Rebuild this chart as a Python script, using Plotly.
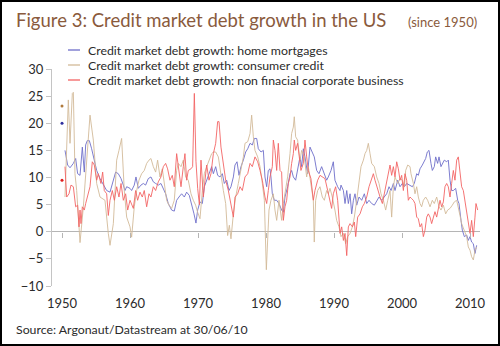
import plotly.graph_objects as go

# ---------------- data ----------------
series_names = [
    "Credit market debt growth: home mortgages",
    "Credit market debt growth: consumer credit",
    "Credit market debt growth: non finacial corporate business",
]
title_text = "Figure 3: Credit market debt growth in the US"
subtitle_text = "(since 1950)"
source_text = "Source: Argonaut/Datastream at 30/06/10"
x_tick_years = [1950, 1960, 1970, 1980, 1990, 2000, 2010]
y_tick_values = [-10, -5, 0, 5, 10, 15, 20, 25, 30]

first_year = 1950.0
first_values = [20.0, 23.2, 9.5]   # mortgages, consumer, non-financial

mort_years = [1950.44, 1950.83, 1951.18, 1951.67, 1952.01, 1952.30, 1952.65, 1952.99, 1953.28, 1953.48,
              1953.72, 1954.02, 1954.36, 1954.75, 1955.10, 1955.59, 1956.08, 1956.57, 1957.06, 1957.55,
              1957.89, 1958.28, 1958.68, 1959.02, 1959.26, 1959.51, 1960.00,
              1960.24, 1960.63, 1960.88, 1961.22, 1961.61, 1961.96, 1962.30, 1962.69, 1963.08, 1963.43,
              1963.77, 1964.16, 1964.55, 1964.90, 1965.24, 1965.63, 1966.12, 1966.51, 1966.86, 1967.20,
              1967.59, 1967.99, 1968.33, 1968.72, 1969.06, 1969.41, 1969.70, 1969.95, 1970.29,
              1970.64, 1970.93, 1971.28, 1971.62, 1972.01, 1972.26, 1972.60, 1972.89, 1973.24, 1973.58,
              1973.87, 1974.22, 1974.56, 1974.85, 1975.20, 1975.44, 1975.74, 1976.03, 1976.32, 1976.67,
              1977.01, 1977.31, 1977.65, 1977.99, 1978.29, 1978.63, 1978.87, 1979.27, 1979.61, 1979.85,
              1980.10, 1980.34, 1980.59,
              1980.73, 1980.93, 1981.22, 1981.57, 1981.91, 1982.30, 1982.55, 1982.79, 1983.18, 1983.53,
              1983.77, 1984.02, 1984.36, 1984.65, 1985.00, 1985.24, 1985.49, 1985.73, 1986.12, 1986.47,
              1986.71, 1987.10, 1987.45, 1987.79, 1988.18, 1988.58, 1988.92, 1989.16, 1989.56, 1989.90,
              1990.14, 1990.54, 1990.88,
              1991.03, 1991.38, 1991.62, 1991.87, 1992.11, 1992.36, 1992.60, 1992.85, 1993.09, 1993.34,
              1993.68, 1994.07, 1994.46, 1994.81, 1995.15, 1995.54, 1995.93, 1996.28, 1996.62, 1997.01,
              1997.40, 1997.75, 1998.09, 1998.39, 1998.73, 1998.97, 1999.37, 1999.71, 2000.05, 2000.35,
              2000.69, 2001.18,
              2001.52, 2001.81, 2002.16, 2002.40, 2002.65, 2002.99, 2003.28, 2003.48, 2003.72, 2003.97,
              2004.26, 2004.46, 2004.75, 2004.95, 2005.24, 2005.44, 2005.73, 2005.93, 2006.22, 2006.57,
              2006.81, 2007.06, 2007.30, 2007.55, 2007.89, 2008.19, 2008.38, 2008.68, 2008.87, 2009.17,
              2009.51, 2009.75, 2010.00, 2010.24, 2010.49, 2010.73, 2010.98]
mort_vals = [15.0, 12.3, 11.8, 12.6, 13.5, 10.7, 10.4, 15.6, 11.0, 16.0,
             16.8, 16.8, 15.3, 13.2, 11.3, 9.8, 8.6, 7.6, 7.3, 9.8,
             11.0, 10.7, 9.8, 8.6, 7.6, 8.3, 8.0,
             7.6, 8.6, 10.1, 8.0, 8.6, 8.9, 8.6, 9.8, 10.1, 9.2,
             8.9, 8.6, 8.9, 8.0, 7.0, 5.2, 4.0, 3.8, 5.8, 6.4,
             7.0, 6.4, 7.3, 6.7, 5.2, 3.3, 1.6, 4.0, 5.5,
             5.2, 8.3, 9.5, 10.4, 12.0, 10.7, 12.0, 10.4, 10.1, 10.7,
             8.9, 9.5, 7.6, 8.3, 10.1, 12.3, 12.9, 10.4, 12.0, 13.2,
             14.7, 15.3, 16.3, 16.0, 17.2, 17.2, 15.3, 14.7, 15.0, 10.1,
             8.3, 11.3, 11.6,
             10.1, 7.0, 5.8, 5.8, 5.2, 4.0, 3.6, 6.4, 8.3, 10.7,
             11.3, 10.1, 9.5, 11.3, 13.8, 12.0, 15.3, 13.8, 10.7, 15.6,
             15.0, 13.8, 11.3, 10.7, 12.0, 10.7, 9.5, 10.1, 11.3, 12.9,
             9.5, 8.3, 7.6,
             8.6, 7.6, 5.2, 7.6, 5.2, 7.0, 3.3, 5.8, 7.0, 4.9,
             6.4, 5.8, 7.0, 5.2, 5.8, 5.2, 4.9, 5.8, 6.4, 5.8,
             6.4, 7.0, 8.3, 7.6, 8.9, 7.6, 9.5, 8.3, 8.9, 8.3,
             8.9, 8.6,
             8.3, 8.9, 10.7, 10.4, 11.6, 12.3, 13.2, 13.5, 14.7, 15.0,
             12.6, 11.3, 12.0, 13.8, 12.6, 13.8, 12.0, 12.6, 13.2, 12.9,
             13.2, 9.5, 7.6, 7.6, 8.0, 5.8, 5.2, 2.1, 0.3, -0.9,
             -0.6, -1.6, -0.9, -1.9, -2.2, -4.0, -2.5]

cons_years = [1950.44, 1950.93, 1951.18, 1951.52, 1951.67, 1951.91, 1952.16, 1952.65, 1953.14, 1953.63,
              1954.12, 1954.61, 1955.10, 1955.59, 1956.32, 1956.81, 1957.06, 1957.55, 1958.04, 1958.38,
              1958.77, 1959.16, 1959.51, 1960.00,
              1960.24, 1960.63, 1960.98, 1961.32, 1961.71, 1962.10, 1962.45, 1962.79, 1963.08, 1963.43,
              1963.77, 1964.06, 1964.41, 1964.75, 1965.04, 1965.39, 1965.73, 1966.12, 1966.51, 1966.86,
              1967.10, 1967.50, 1967.84, 1968.18, 1968.57, 1968.97, 1969.31, 1969.65, 1969.95, 1970.29,
              1970.64, 1970.93, 1971.28, 1971.62, 1972.01, 1972.26, 1972.60, 1972.99, 1973.38, 1973.73,
              1974.07, 1974.36, 1974.61, 1974.85, 1975.20, 1975.54, 1975.93, 1976.32, 1976.67, 1976.91,
              1977.31, 1977.65, 1977.89, 1978.14, 1978.38, 1978.78, 1979.12, 1979.46, 1979.76, 1980.05,
              1980.24, 1980.44, 1980.73, 1981.08, 1981.32, 1981.57, 1981.91, 1982.30, 1982.55, 1982.79,
              1983.18, 1983.53, 1983.77, 1984.02, 1984.16, 1984.36, 1984.65, 1985.00, 1985.24, 1985.63,
              1985.98, 1986.22, 1986.61, 1986.96, 1987.10, 1987.30, 1987.60, 1987.94, 1988.28, 1988.58,
              1988.92, 1989.16, 1989.41, 1989.75, 1990.14, 1990.39, 1990.74,
              1991.03, 1991.38, 1991.72, 1992.01, 1992.36, 1992.70, 1992.99, 1993.34, 1993.68, 1993.97,
              1994.32, 1994.56, 1994.81, 1995.05, 1995.30, 1995.54, 1995.93, 1996.28, 1996.62, 1996.91,
              1997.26, 1997.60, 1997.90, 1998.24, 1998.48, 1998.73, 1998.97, 1999.37, 1999.71, 2000.05,
              2000.35, 2000.54, 2000.84, 2001.18,
              2001.32, 2001.67, 2001.91, 2002.16, 2002.40, 2002.65, 2002.89, 2003.14, 2003.48, 2003.77,
              2004.12, 2004.46, 2004.75, 2005.10, 2005.44, 2005.73, 2006.08, 2006.42, 2006.71, 2007.06,
              2007.40, 2007.69, 2008.04, 2008.28, 2008.53, 2008.77, 2009.02, 2009.26, 2009.51, 2009.75,
              2010.00, 2010.24, 2010.49, 2010.73, 2010.98]
cons_vals = [6.4, 24.3, 16.3, 25.5, 25.7, 10.7, 7.6, -2.0, 4.6, 13.8,
             21.5, 16.9, 8.9, 6.4, 5.8, -0.3, -2.5, 1.5, 13.2, 15.0,
             17.2, 7.6, 2.7, 0.9,
             -1.0, 4.6, 7.6, 9.5, 10.7, 11.3, 12.6, 13.2, 13.5, 12.0,
             11.0, 13.2, 10.1, 11.6, 8.9, 5.8, 4.9, 4.3, 5.8, 11.3,
             12.6, 12.0, 13.2, 10.1, 9.5, 7.0, 5.8, 4.9, 3.6, 2.4,
             7.6, 10.7, 12.0, 13.2, 14.4, 14.7, 14.7, 13.8, 10.1, 7.6,
             5.2, -0.7, 1.2, -1.3, 3.3, 6.4, 8.9, 11.3, 13.8, 16.3,
             16.6, 18.1, 21.5, 17.5, 15.0, 13.8, 12.0, 8.9, 5.8, -7.0,
             0.3, 4.0, 5.8, 7.0, 4.0, 2.1, 5.8, 2.1, 5.2, 7.0,
             10.1, 14.4, 18.1, 19.3, 21.2, 17.5, 16.9, 13.2, 15.0, 13.8,
             10.1, 12.0, 8.9, 5.8, -1.9, 5.8, 7.6, 8.3, 6.4, 5.8,
             7.6, 7.0, 8.0, 6.4, 4.0, 2.1, 0.9,
             -0.9, -0.3, -2.2, -0.9, -0.3, 0.9, 2.7, 5.8, 9.5, 12.0,
             13.2, 14.4, 15.0, 16.3, 14.4, 12.6, 12.0, 10.1, 8.9, 7.0,
             5.8, 4.0, 5.8, 7.6, 2.7, 8.3, 10.1, 8.9, 9.8, 9.5,
             8.3, 11.3, 12.3, 12.0,
             10.7, 8.9, 7.0, 8.3, 6.4, 5.2, 4.6, 5.8, 6.4, 5.8,
             4.6, 5.8, 5.2, 6.4, 4.6, 4.0, 4.9, 3.3, 4.0, 4.3,
             4.9, 5.5, 5.8, 4.6, 3.0, 1.5, 0.6, -0.3, -0.9, -2.8,
             -3.4, -4.6, -5.2, -3.4, -2.8]

corp_years = [1950.44, 1950.69, 1951.03, 1951.32, 1951.67, 1952.01, 1952.30, 1952.50, 1952.65, 1952.79,
              1952.99, 1953.28, 1953.48, 1953.77, 1954.12, 1954.46, 1954.75, 1955.10, 1955.34, 1955.73,
              1955.98, 1956.22, 1956.57, 1956.81, 1957.06, 1957.40, 1957.70, 1958.04, 1958.38, 1958.68,
              1959.02, 1959.36, 1959.66, 1960.00,
              1960.24, 1960.49, 1960.83, 1961.12, 1961.47, 1961.81, 1962.10, 1962.45, 1962.79, 1963.08,
              1963.43, 1963.77, 1964.16, 1964.55, 1964.90, 1965.24, 1965.53, 1965.88, 1966.22, 1966.51,
              1966.86, 1967.20, 1967.50, 1967.84, 1968.08, 1968.33, 1968.57, 1968.97, 1969.21, 1969.46,
              1969.70, 1969.95, 1970.20,
              1970.44, 1970.79, 1971.03, 1971.28, 1971.62, 1971.91, 1972.26, 1972.60, 1972.89, 1973.09,
              1973.38, 1973.73, 1974.07, 1974.46, 1974.85, 1975.20, 1975.44, 1975.83, 1976.18, 1976.52,
              1976.91, 1977.31, 1977.65, 1977.99, 1978.38, 1978.78, 1979.12, 1979.46, 1979.85, 1980.10,
              1980.34, 1980.59,
              1980.93, 1981.08, 1981.32, 1981.57, 1981.81, 1982.06, 1982.30, 1982.55, 1982.79, 1983.04,
              1983.28, 1983.53, 1983.77, 1984.02, 1984.16, 1984.36, 1984.65, 1984.85, 1985.14, 1985.49,
              1985.73, 1985.98, 1986.22, 1986.61, 1986.96, 1987.20, 1987.60, 1987.94, 1988.28, 1988.67,
              1989.07, 1989.41, 1989.65, 1989.90, 1990.24, 1990.54,
              1990.89, 1991.13, 1991.38, 1991.62, 1991.87, 1992.11, 1992.36, 1992.70, 1992.99, 1993.19,
              1993.48, 1993.83, 1994.17, 1994.46, 1994.81, 1995.15, 1995.44, 1995.79, 1996.03, 1996.42,
              1996.77, 1997.11, 1997.40, 1997.75, 1997.99, 1998.24, 1998.48, 1998.73, 1998.97, 1999.22,
              1999.46, 1999.71, 1999.95, 2000.20, 2000.44, 2000.69, 2000.93, 2001.18,
              2001.42, 2001.67, 2001.91, 2002.16, 2002.40, 2002.65, 2002.89, 2003.14, 2003.38, 2003.63,
              2003.87, 2004.12, 2004.36, 2004.61, 2004.85, 2005.10, 2005.34, 2005.59, 2005.83, 2006.08,
              2006.32, 2006.57, 2006.81, 2007.06, 2007.30, 2007.55, 2007.79, 2008.04, 2008.28, 2008.53,
              2008.77, 2009.02, 2009.26, 2009.51, 2009.75, 2010.00, 2010.24, 2010.49, 2010.73, 2010.88,
              2011.13]
corp_vals = [12.0, 6.4, 7.0, 8.6, 8.3, 4.6, 4.9, 0.9, 4.0, 1.5,
             4.6, 4.0, 5.2, 6.4, 8.3, 12.9, 12.3, 9.5, 10.7, 8.9,
             11.0, 7.6, 7.0, 3.0, 5.8, 7.6, 5.8, 8.3, 6.4, 8.9,
             5.8, 7.0, 4.0, 5.8,
             4.9, 4.3, 7.6, 5.8, 7.3, 6.4, 7.6, 4.6, 7.0, 6.4,
             8.3, 7.6, 9.2, 10.1, 12.0, 12.6, 11.6, 9.5, 10.4, 8.3,
             14.4, 10.7, 8.3, 12.0, 14.4, 9.5, 11.3, 11.6, 12.0, 25.5,
             13.0, 8.0, 5.0,
             13.2, 6.4, 9.5, 12.3, 9.5, 10.7, 14.4, 16.3, 20.3, 20.3,
             15.6, 12.6, 9.5, 7.6, 5.2, 2.7, 6.4, 7.0, 8.3, 7.6,
             10.1, 10.7, 12.6, 12.0, 13.8, 12.9, 11.3, 9.5, 6.4, 5.2,
             7.6, 10.1,
             12.0, 16.9, 15.0, 11.3, 16.3, 11.3, 11.0, 2.1, 4.6, 5.8,
             8.9, 10.1, 12.6, 14.4, 16.9, 15.0, 16.3, 13.8, 11.3, 12.6,
             16.9, 13.8, 11.3, 9.8, 5.8, 7.6, 9.5, 10.4, 10.1, 9.8,
             7.6, 5.8, 4.3, 7.0, 8.3, 5.8,
             -0.3, 0.9, -1.6, -0.3, -4.4, 0.9, 1.5, 0.9, 1.8, -0.9,
             2.7, 3.3, 4.6, 5.2, 6.4, 8.3, 9.5, 10.7, 9.5, 7.6,
             6.4, 5.2, 7.0, 9.5, 11.3, 12.3, 10.4, 12.0, 10.1, 12.9,
             11.6, 9.5, 10.4, 7.6, 10.7, 9.5, 5.8, 6.4,
             6.1, 5.8, 5.2, 2.7, 2.4, 0.9, 1.5, -0.9, 0.3, 2.7,
             3.3, 2.7, 1.5, 2.7, 3.7, 2.7, 4.0, 5.8, 4.6, 5.5,
             8.3, 8.9, 8.3, 6.4, 8.9, 11.3, 9.5, 13.2, 13.8, 11.3,
             8.3, 7.6, 5.8, 4.0, 1.5, -0.3, 2.1, -0.9, 2.7, 5.2,
             4.0]

# ---------------- style / layout ----------------
W, H = 500, 346
L, R, T, B = 52, 20, 69, 60
PW, PH = W - L - R, H - T - B


def px(x):
    return (x - L) / PW


def py(y):
    return (H - B - y) / PH


line_colors = ["#6e6ec9", "#d2ba98", "#f36464"]
dot_colors = ["#2e2e9e", "#b07a3c", "#e01e1e"]
FONT = "Lato"
x_range = [1948.53, 2011.47]

fig = go.Figure()
all_years = [mort_years, cons_years, corp_years]
all_vals = [mort_vals, cons_vals, corp_vals]
for i in range(3):
    fig.add_trace(go.Scatter(x=all_years[i], y=all_vals[i], mode="lines",
                             line=dict(color=line_colors[i], width=0.9),
                             name=series_names[i], showlegend=False, hoverinfo="skip"))
    fig.add_trace(go.Scatter(x=[first_year], y=[first_values[i]], mode="markers",
                             marker=dict(color=dot_colors[i], size=3),
                             showlegend=False, hoverinfo="skip"))
# helper invisible trace for the zero-line tick axis
fig.add_trace(go.Scatter(x=[x_tick_years[0]], y=[0], xaxis="x2", mode="markers",
                         marker=dict(opacity=0), showlegend=False, hoverinfo="skip"))

shapes = []
annotations = []
legend_y = [50, 65, 80]
for i in range(3):
    shapes.append(dict(type="line", xref="paper", yref="paper",
                       x0=px(68), x1=px(80), y0=py(legend_y[i]), y1=py(legend_y[i]),
                       line=dict(color=line_colors[i], width=1.3)))
    annotations.append(dict(text=series_names[i], xref="paper", yref="paper",
                            x=px(86), y=py(legend_y[i]), xanchor="left", yanchor="middle",
                            showarrow=False, font=dict(family=FONT, size=12.3, color="#2b2b2b")))

annotations.append(dict(text=title_text, xref="paper", yref="paper", x=px(14), y=py(20),
                        xanchor="left", yanchor="middle", showarrow=False,
                        font=dict(family=FONT, size=18.5, color="#8a5a3c")))
annotations.append(dict(text=subtitle_text, xref="paper", yref="paper", x=px(479), y=py(22),
                        xanchor="right", yanchor="middle", showarrow=False,
                        font=dict(family=FONT, size=13, color="#8a5a3c")))
annotations.append(dict(text=source_text, xref="paper", yref="paper", x=px(14), y=py(329),
                        xanchor="left", yanchor="middle", showarrow=False,
                        font=dict(family=FONT, size=12.3, color="#2b2b2b")))

shapes.append(dict(type="rect", xref="paper", yref="paper",
                   x0=px(1), x1=px(W - 1), y0=py(H - 1), y1=py(1),
                   line=dict(color="#000000", width=2), layer="above"))

fig.update_layout(
    width=W, height=H,
    margin=dict(l=L, r=R, t=T, b=B, pad=0),
    paper_bgcolor="white", plot_bgcolor="white",
    showlegend=False,
    shapes=shapes, annotations=annotations,
    xaxis=dict(range=x_range, tickvals=x_tick_years, showgrid=False, zeroline=False,
               showline=False, ticks="outside", ticklen=5, tickcolor="rgba(0,0,0,0)",
               tickfont=dict(family=FONT, size=13, color="#2b2b2b")),
    xaxis2=dict(range=x_range, tickvals=x_tick_years, overlaying="x", anchor="free",
                position=0.25, side="bottom", showgrid=False, zeroline=False, showline=False,
                ticks="outside", ticklen=5, tickcolor="#b5b5b5", showticklabels=False),
    yaxis=dict(range=[-10, 30], tickvals=y_tick_values, showgrid=False,
               zeroline=True, zerolinecolor="#b5b5b5", zerolinewidth=1,
               showline=True, linecolor="#c4c4c4", linewidth=1,
               ticks="outside", ticklen=5, tickcolor="#c4c4c4",
               tickfont=dict(family=FONT, size=13, color="#2b2b2b")),
)

fig.write_html("out.html")
